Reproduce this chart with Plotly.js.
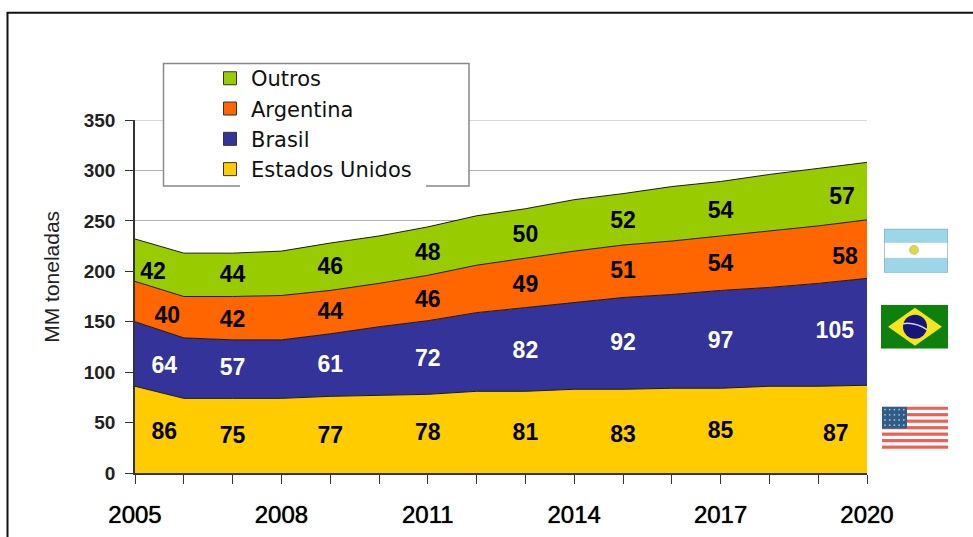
<!DOCTYPE html>
<html><head><meta charset="utf-8">
<script src="https://cdn.plot.ly/plotly-3.0.1.min.js"></script>
<style>html,body{margin:0;padding:0;background:#fff}#c{width:973px;height:537px}</style>
</head><body><div id="c"></div>
<script>
const W=973,H=537,L=135,R=867,T=120,B=473.5;
const years=[2005,2006,2007,2008,2009,2010,2011,2012,2013,2014,2015,2016,2017,2018,2019,2020];
const estadosUnidos=[86,74,74,74,76,77,78,81,81,83,83,84,84,86,86,87];
const brasil=[64,60,58,58,62,68,73,78,83,86,91,93,97,98,102,106];
const argentina=[40,41,43,44,43,43,45,47,49,51,52,53,54,56,57,58];
const outros=[42,43,43,44,47,47,48,49,49,51,51,54,54,56,57,57];
const labelsEU=[86,75,77,78,81,83,85,87];
const labelsBR=[64,57,61,72,82,92,97,105];
const labelsAR=[40,42,44,46,49,51,54,58];
const labelsOU=[42,44,46,48,50,52,54,57];
const labelXEU=[2005.6,2007,2009,2011,2013,2015,2017,2019.36];
const labelXBR=[2005.6,2007,2009,2011,2013,2015,2017,2019.34];
const labelXAR=[2005.66,2007,2009,2011,2013,2015,2017,2019.55];
const labelXOU=[2005.37,2007,2009,2011,2013,2015,2017,2019.49];
const labelYEU=[39,35,35,38,38,36,40,37];
const labelYBR=[104.5,102.5,105.5,111.5,119.5,127.5,129.5,139.5];
const labelYAR=[154.5,150.5,158.5,170.5,185.5,199.5,205.5,212.5];
const labelYOU=[198,195,203,217,235,249,259,272];
const names=['Estados Unidos','Brasil','Argentina','Outros'];
const colors=['#ffcc00','#333399','#ff6600','#99cc00'];
const all=[estadosUnidos,brasil,argentina,outros];
const traces=[];
all.forEach((v,i)=>traces.push({x:years,y:v,type:'scatter',mode:'lines',stackgroup:'s',name:names[i],
  line:{color:'#1a1a1a',width:1},fillcolor:colors[i],showlegend:false,hoverinfo:'x+y+name'}));
[3,2,1,0].forEach(i=>traces.push({x:[null],y:[null],type:'scatter',mode:'markers',name:names[i],
  marker:{symbol:'square',size:13,color:colors[i],line:{color:'#333',width:1}},showlegend:true}));
const lab=[[labelXEU,labelYEU,labelsEU,'#000'],[labelXBR,labelYBR,labelsBR,'#fff'],[labelXAR,labelYAR,labelsAR,'#000'],[labelXOU,labelYOU,labelsOU,'#000']];
lab.forEach(a=>traces.push({x:a[0],y:a[1],text:a[2].map(String),type:'scatter',mode:'text',showlegend:false,
  textposition:'middle center',textfont:{family:'Liberation Sans',size:23,color:a[3],weight:700},hoverinfo:'skip',cliponaxis:false}));
const px=x=>(x-L)/(R-L), py=y=>(B-y)/(B-T);
function flagUri(svg){return 'data:image/svg+xml;base64,'+btoa(svg);}
const blur=`<defs><filter id="b" x="0" y="0" width="1" height="1"><feGaussianBlur stdDeviation="0.5"/></filter></defs>`;
const ar=`<svg xmlns="http://www.w3.org/2000/svg" width="64" height="44">${blur}<g filter="url(#b)"><rect width="64" height="44" fill="#9dd6e6"/><rect y="14" width="64" height="15" fill="#fff"/><rect width="64" height="44" fill="none" stroke="#8ab4c4" stroke-width="1.5"/><circle cx="30" cy="21" r="4.5" fill="#e0d840" stroke="#c8c890" stroke-width="1"/></g></svg>`;
const br=`<svg xmlns="http://www.w3.org/2000/svg" width="67" height="44">${blur}<g filter="url(#b)"><rect width="67" height="44" fill="#078007"/><polygon points="7,22 34,3 61,22 34,41" fill="#f5e51b"/><circle cx="34" cy="22" r="12" fill="#14147a"/><path d="M22 19 Q34 17 46 25" stroke="#d8d8e8" stroke-width="1.5" fill="none"/></g></svg>`;
let stripes='';for(let i=0;i<7;i++){stripes+=`<rect y="${i*6.5}" width="66" height="3.2" fill="#ee6055"/>`;}
let stars='';for(let r=0;r<4;r++){for(let c=0;c<5;c++){stars+=`<circle cx="${3+c*4.7}" cy="${3+r*5.2}" r="0.9" fill="#a8c0d8"/>`;}}
const us=`<svg xmlns="http://www.w3.org/2000/svg" width="66" height="43">${blur}<g filter="url(#b)"><rect width="66" height="43" fill="#fff"/>${stripes}<rect width="25" height="22" fill="#2f5d85"/>${stars}</g></svg>`;
const img=(u,x0,x1,y0,y1)=>({source:flagUri(u),xref:'paper',yref:'paper',x:px(x0),y:py(y0),sizex:px(x1)-px(x0),sizey:py(y0)-py(y1),xanchor:'left',yanchor:'top',sizing:'stretch',layer:'above'});
const layout={width:W,height:H,margin:{l:L,r:W-R,t:T,b:H-B,pad:0},paper_bgcolor:'#fff',plot_bgcolor:'#fff',
 showlegend:true,
 legend:{x:px(209),y:py(58),xanchor:'left',yanchor:'top',bgcolor:'rgba(0,0,0,0)',borderwidth:0,traceorder:'normal',
   font:{family:'DejaVu Sans',size:21,color:'#111'},itemwidth:32,tracegroupgap:0},
 xaxis:{range:[2005,2020],dtick:3,tick0:2005,ticks:'outside',ticklen:9,tickwidth:1.3,tickcolor:'#333',
   minor:{dtick:1,ticks:'outside',ticklen:9,tickwidth:1.3,tickcolor:'#333'},showgrid:false,zeroline:false,showline:true,linecolor:'#333',linewidth:1.5,
   tickfont:{family:'Liberation Sans',size:24,color:'#000',shadow:'0 0 1px #000'},ticklabelstandoff:10,fixedrange:true},
 yaxis:{range:[0,350],tick0:0,dtick:50,ticks:'outside',ticklen:8,tickwidth:1.3,tickcolor:'#333',showgrid:true,gridcolor:'#b0b0b0',gridwidth:1,zeroline:false,showline:true,linecolor:'#333',linewidth:1.5,
   tickfont:{family:'Liberation Sans',size:19,color:'#222',weight:700},ticklabelstandoff:6,fixedrange:true},
 annotations:[{text:'MM toneladas',xref:'paper',yref:'paper',x:px(51.5),y:py(277.5),xanchor:'center',yanchor:'middle',textangle:-90,showarrow:false,
   font:{family:'Liberation Sans',size:21,color:'#222'}}],
 shapes:[
  {type:'rect',xref:'paper',yref:'paper',x0:px(7.5),x1:px(1100),y0:py(12.5),y1:py(700),line:{color:'#111',width:2},fillcolor:'rgba(0,0,0,0)',layer:'below'},
  {type:'line',xref:'paper',yref:'y',x0:0,x1:1,y0:350,y1:350,line:{color:'#b0b0b0',width:1},layer:'below'},
  {type:'rect',xref:'paper',yref:'paper',x0:px(163.5),x1:px(469),y0:py(63.5),y1:py(186),line:{color:'#888',width:1.5},fillcolor:'#fff',layer:'above'},
  {type:'line',xref:'paper',yref:'paper',x0:px(240),x1:px(426),y0:py(186),y1:py(186),line:{color:'#fff',width:2.5},layer:'above'}
 ],
 images:[img(ar,884,948,229,273),img(br,881,948,305,349),img(us,882,948,407,450)]
};
Plotly.newPlot('c',traces,layout,{displayModeBar:false,responsive:false});
</script></body></html>
